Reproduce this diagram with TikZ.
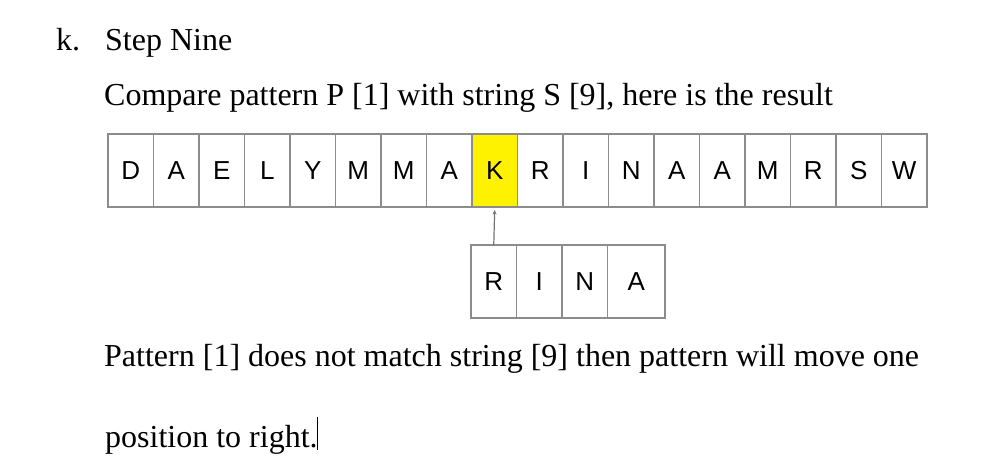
\documentclass[tikz,border=0pt]{standalone}
\usepackage{fontspec}
\setmainfont{Liberation Serif}
\newfontfamily\cellfont{Liberation Sans}
\usetikzlibrary{arrows.meta}
\begin{document}
\begin{tikzpicture}[x=1pt,y=1pt,
  body/.style={anchor=base west,inner sep=0pt,font=\fontsize{32}{38}\selectfont},
  cellbox/.style={draw=black!45,line width=1.5pt,minimum width=45.5pt,minimum height=73pt,inner sep=0pt,outer sep=0pt,anchor=north west,text=black,font=\cellfont\fontsize{26}{30}\selectfont},
  hit/.style={fill=yellow},
  ptr/.style={draw=black!55,line width=1.2pt,-{Stealth[length=4.5pt,width=4pt]},shorten >=3pt}]
\useasboundingbox (0,0) rectangle (996,-475);
\node[body] (k) at (56,-50) {k.};
\node[body] (title) at (105,-50) {Step Nine};
\node[body] (intro) at (104,-105) {Compare pattern P [1] with string S [9], here is the result};
\foreach \c [count=\i] in {D,A,E,L,Y,M,M,A,K,R,I,N,A,A,M,R,S,W}{
  \ifnum\i=9
    \node[cellbox,hit] (s\i) at ({108+(\i-1)*45.5},-134) {\c};
  \else
    \node[cellbox] (s\i) at ({108+(\i-1)*45.5},-134) {\c};
  \fi
}
\node[cellbox] (p1) at (471,-245) {R};
\node[cellbox] (p2) at (516.5,-245) {I};
\node[cellbox] (p3) at (562,-245) {N};
\node[cellbox,minimum width=57.5pt] (p4) at (607.5,-245) {A};
\draw[ptr] (p1.north) -- (s9.south);
\node[body] (res1) at (104,-366) {Pattern [1] does not match string [9] then pattern will move one};
\node[body] (res2) at (105,-447) {position to right.};
\coordinate (curtop) at (317,-417);
\coordinate (curbot) at (317,-450);
\draw[line width=1pt] (curtop) -- (curbot);
\end{tikzpicture}
\end{document}
